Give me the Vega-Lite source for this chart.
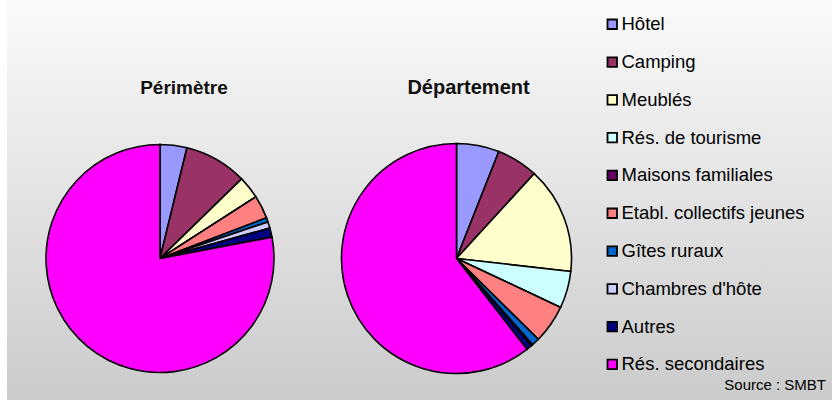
{
  "$schema": "https://vega.github.io/schema/vega-lite/v6.json",
  "width": 832,
  "height": 403,
  "autosize": {"type": "fit", "contains": "padding"},
  "padding": {"left": 7, "top": 0, "right": 0, "bottom": 3},
  "background": "white",
  "view": {
    "stroke": null,
    "fill": {
      "gradient": "linear", "x1": 0, "y1": 0, "x2": 0, "y2": 1,
      "stops": [{"offset": 0, "color": "#fafafa"}, {"offset": 1, "color": "#cbcbcb"}]
    }
  },
  "datasets": {
    "parts": [
      {"zone": "Périmètre", "type": "Hôtel", "part": 3.8},
      {"zone": "Périmètre", "type": "Camping", "part": 8.9},
      {"zone": "Périmètre", "type": "Meublés", "part": 3.2},
      {"zone": "Périmètre", "type": "Rés. de tourisme", "part": 0},
      {"zone": "Périmètre", "type": "Maisons familiales", "part": 0},
      {"zone": "Périmètre", "type": "Etabl. collectifs jeunes", "part": 3.3},
      {"zone": "Périmètre", "type": "Gîtes ruraux", "part": 0.6},
      {"zone": "Périmètre", "type": "Chambres d'hôte", "part": 0.9},
      {"zone": "Périmètre", "type": "Autres", "part": 1.3},
      {"zone": "Périmètre", "type": "Rés. secondaires", "part": 78.0},
      {"zone": "Département", "type": "Hôtel", "part": 6.0},
      {"zone": "Département", "type": "Camping", "part": 5.8},
      {"zone": "Département", "type": "Meublés", "part": 15.0},
      {"zone": "Département", "type": "Rés. de tourisme", "part": 5.2},
      {"zone": "Département", "type": "Maisons familiales", "part": 0},
      {"zone": "Département", "type": "Etabl. collectifs jeunes", "part": 5.4},
      {"zone": "Département", "type": "Gîtes ruraux", "part": 1.1},
      {"zone": "Département", "type": "Chambres d'hôte", "part": 0.2},
      {"zone": "Département", "type": "Autres", "part": 0.8},
      {"zone": "Département", "type": "Rés. secondaires", "part": 60.5}
    ]
  },
  "title": {
    "text": "Source : SMBT",
    "orient": "bottom",
    "anchor": "end",
    "offset": -22,
    "dx": -6,
    "fontSize": 15,
    "fontWeight": "normal",
    "font": "Liberation Sans",
    "color": "#000000"
  },
  "layer": [
    {
      "data": {"name": "parts"},
      "transform": [
        {"filter": "datum.zone === 'Périmètre'"},
        {"window": [{"op": "row_number", "as": "rang"}]}
      ],
      "mark": {"type": "arc", "radius": 114, "stroke": "black", "strokeWidth": 1.6},
      "encoding": {
        "theta": {"field": "part", "type": "quantitative", "stack": true},
        "order": {"field": "rang", "type": "quantitative", "sort": "ascending"},
        "x": {"field": "zone", "type": "nominal", "axis": null,
              "scale": {"type": "point", "domain": ["Périmètre", "Département"], "padding": 0.8912, "align": 0.2895}},
        "y": {"datum": "pie", "type": "nominal", "axis": null,
              "scale": {"type": "point", "domain": ["titre", "pie"], "padding": 0.673, "align": 0.3834}},
        "color": {
          "field": "type", "type": "nominal",
          "scale": {
            "domain": ["Hôtel", "Camping", "Meublés", "Rés. de tourisme", "Maisons familiales", "Etabl. collectifs jeunes", "Gîtes ruraux", "Chambres d'hôte", "Autres", "Rés. secondaires"],
            "range": ["#9999FF", "#993366", "#FFFFCC", "#CCFFFF", "#660066", "#FF8080", "#0066CC", "#CCCCFF", "#000080", "#FF00FF"]
          },
          "legend": {
            "title": null,
            "orient": "none",
            "legendX": 596,
            "legendY": 15,
            "symbolType": "square",
            "symbolSize": 90,
            "symbolStrokeColor": "black",
            "symbolStrokeWidth": 1.8,
            "symbolOpacity": 1,
            "labelFont": "Liberation Sans",
            "labelFontSize": 18.5,
            "labelColor": "#000000",
            "labelOffset": 0,
            "rowPadding": 18.8,
            "labelLimit": 300
          }
        }
      }
    },
    {
      "data": {"name": "parts"},
      "transform": [
        {"filter": "datum.zone === 'Département'"},
        {"window": [{"op": "row_number", "as": "rang"}]}
      ],
      "mark": {"type": "arc", "radius": 115, "stroke": "black", "strokeWidth": 1.6},
      "encoding": {
        "theta": {"field": "part", "type": "quantitative", "stack": true},
        "order": {"field": "rang", "type": "quantitative", "sort": "ascending"},
        "x": {"field": "zone", "type": "nominal", "axis": null},
        "y": {"datum": "pie", "type": "nominal", "axis": null},
        "color": {"field": "type", "type": "nominal"}
      }
    },
    {
      "data": {"values": [{"zone": "Périmètre"}]},
      "mark": {"type": "text", "font": "Liberation Sans", "fontSize": 19, "fontWeight": "bold", "dx": 24, "baseline": "middle", "color": "#111111"},
      "encoding": {
        "x": {"field": "zone", "type": "nominal", "axis": null},
        "y": {"datum": "titre", "type": "nominal", "axis": null},
        "text": {"field": "zone"}
      }
    },
    {
      "data": {"values": [{"zone": "Département"}]},
      "mark": {"type": "text", "font": "Liberation Sans", "fontSize": 20, "fontWeight": "bold", "dx": 12, "baseline": "middle", "color": "#111111"},
      "encoding": {
        "x": {"field": "zone", "type": "nominal", "axis": null},
        "y": {"datum": "titre", "type": "nominal", "axis": null},
        "text": {"field": "zone"}
      }
    }
  ]
}
